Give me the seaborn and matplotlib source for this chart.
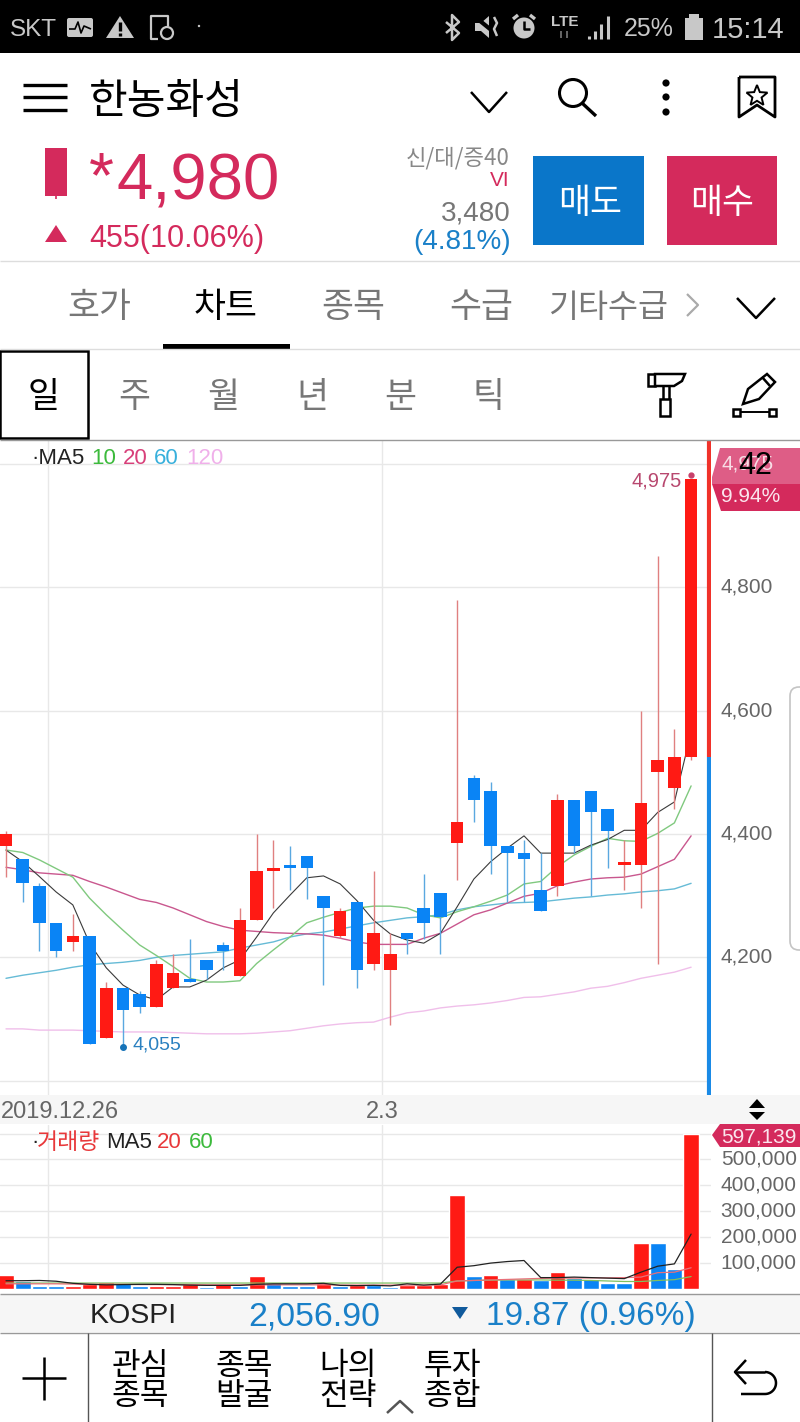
import numpy as np
import pandas as pd
import matplotlib
matplotlib.use('Agg')
import matplotlib.pyplot as plt
import seaborn as sns
from matplotlib.patches import Rectangle, Polygon, Circle, FancyBboxPatch

# daily candles
open_p = [4380, 4360, 4315, 4255, 4225, 4235, 4070, 4150, 4140, 4120, 4150, 4165, 4195, 4220,
          4170, 4260, 4340, 4350, 4365, 4300, 4235, 4290, 4190, 4180, 4240, 4280, 4305, 4385,
          4490, 4470, 4380, 4370, 4310, 4315, 4455, 4470, 4440, 4350, 4350, 4500, 4475, 4525]
close_p = [4400, 4320, 4255, 4210, 4235, 4060, 4150, 4115, 4120, 4190, 4175, 4160, 4180, 4210,
           4260, 4340, 4345, 4345, 4345, 4280, 4275, 4180, 4240, 4205, 4230, 4255, 4265, 4420,
           4455, 4380, 4370, 4360, 4275, 4455, 4380, 4435, 4405, 4355, 4450, 4520, 4525, 4975]
high_p = [4405, 4360, 4320, 4255, 4270, 4235, 4160, 4150, 4145, 4195, 4205, 4230, 4195, 4225,
          4280, 4400, 4390, 4380, 4365, 4300, 4280, 4290, 4340, 4240, 4240, 4335, 4305, 4780,
          4495, 4485, 4380, 4390, 4370, 4465, 4455, 4470, 4440, 4390, 4600, 4850, 4570, 4975]
low_p = [4330, 4290, 4210, 4200, 4210, 4060, 4070, 4055, 4110, 4120, 4150, 4160, 4165, 4180,
         4170, 4260, 4280, 4310, 4295, 4155, 4232, 4150, 4180, 4090, 4205, 4230, 4205, 4325,
         4420, 4335, 4290, 4290, 4275, 4300, 4370, 4300, 4345, 4310, 4280, 4190, 4440, 4520]

ma5 = [4374, 4355, 4331, 4306, 4285, 4223, 4183, 4155, 4139, 4131, 4152, 4152, 4163, 4183,
       4196, 4233, 4272, 4301, 4329, 4332, 4319, 4292, 4260, 4238, 4228, 4223, 4239, 4282,
       4327, 4355, 4377, 4397, 4369, 4369, 4369, 4382, 4391, 4406, 4406, 4435, 4452, 4565]
ma10 = [4374, 4370, 4358, 4344, 4330, 4296, 4269, 4244, 4220, 4203, 4185, 4166, 4160, 4160,
        4162, 4190, 4212, 4233, 4256, 4265, 4273, 4280, 4283, 4283, 4280, 4269, 4264, 4274,
        4282, 4291, 4301, 4319, 4323, 4347, 4366, 4380, 4393, 4389, 4388, 4401, 4418, 4478]
ma20 = [4346, 4342, 4337, 4335, 4333, 4323, 4314, 4304, 4294, 4289, 4280, 4269, 4258, 4250,
        4244, 4242, 4240, 4239, 4238, 4236, 4231, 4225, 4221, 4221, 4221, 4231, 4239, 4254,
        4269, 4277, 4288, 4299, 4304, 4316, 4322, 4327, 4329, 4330, 4335, 4347, 4359, 4397]
ma60 = [4166, 4171, 4175, 4179, 4184, 4188, 4190, 4192, 4195, 4200, 4203, 4205, 4207, 4209,
        4215, 4220, 4225, 4233, 4238, 4241, 4246, 4251, 4256, 4260, 4264, 4266, 4269, 4277,
        4282, 4285, 4288, 4289, 4290, 4293, 4296, 4298, 4301, 4303, 4306, 4308, 4311, 4320]
ma120 = [4084, 4084, 4082, 4082, 4082, 4081, 4080, 4079, 4079, 4079, 4078, 4077, 4076, 4076,
         4076, 4077, 4079, 4081, 4085, 4089, 4092, 4094, 4095, 4103, 4110, 4113, 4118, 4121,
         4123, 4126, 4130, 4135, 4136, 4140, 4144, 4150, 4153, 4159, 4166, 4171, 4176, 4184]

volume = [53000, 31000, 13000, 13000, 13000, 20000, 26000, 22000, 10000, 10000, 13000, 19000,
          8000, 21000, 10000, 49000, 22000, 10000, 10000, 22000, 10000, 15000, 15000, 9000,
          15000, 15000, 18000, 364000, 50000, 53000, 37000, 40000, 35000, 67000, 44000, 40000,
          25000, 22000, 179000, 177000, 76000, 597139]
vol_dir = ['up', 'down', 'down', 'down', 'up', 'up', 'up', 'down', 'down', 'up', 'up', 'up',
           'down', 'up', 'down', 'up', 'down', 'down', 'down', 'up', 'down', 'up', 'down', 'down',
           'up', 'up', 'up', 'up', 'down', 'up', 'down', 'up', 'down', 'up', 'down', 'down',
           'down', 'down', 'up', 'down', 'down', 'up']
vol_ma5 = [32000, 32000, 33000, 30000, 22000, 18000, 16000, 17000, 18000, 18000, 17000, 15000,
           14000, 14000, 14000, 18000, 20000, 20000, 20000, 22000, 14000, 13000, 14000, 12000,
           20000, 15000, 19000, 84000, 90000, 100000, 106000, 110000, 44000, 44000, 46000, 44000,
           42000, 40000, 65000, 88000, 97000, 212000]
vol_ma20 = [20000, 20000, 20000, 20000, 19000, 18000, 18000, 18000, 17000, 17000, 17000, 17000,
            16000, 16000, 16000, 16000, 16000, 16000, 16000, 16000, 15000, 15000, 15000, 15000,
            15000, 15000, 16000, 31000, 33000, 35000, 37000, 39000, 41000, 42000, 42000, 43000,
            43000, 44000, 46000, 63000, 65000, 82000]
vol_ma60 = [23000, 23000, 23000, 23000, 23000, 23000, 23000, 23000, 23000, 23000, 23000, 23000,
            23000, 23000, 23000, 23000, 23000, 23000, 23000, 23000, 23000, 23000, 23000, 23000,
            23000, 23000, 23000, 31000, 33000, 34000, 35000, 35000, 35000, 34000, 34000, 33000,
            31000, 29000, 29000, 33000, 36000, 48000]

price_ticks = [4200, 4400, 4600, 4800]
price_grid = [4000, 4200, 4400, 4600, 4800, 5000]
vol_ticks = [100000, 200000, 300000, 400000, 500000]
date_ticks = [2.5, 22.5]

RED = '#ff1a14'
BLUE = '#0a84f5'
CRIMSON = '#d42a5c'
GRAY = '#777777'
KR = ['Noto Sans CJK KR', 'DejaVu Sans']
LAT = ['Liberation Sans', 'DejaVu Sans']

sns.set_theme(style='white')
plt.rcParams['font.family'] = LAT

W, H = 800, 1422
fig = plt.figure(figsize=(W / 100, H / 100), dpi=100, facecolor='white')


def px_axes(left, top, right, bottom):
    return fig.add_axes([left / W, 1 - bottom / H, (right - left) / W, (bottom - top) / H])


days = np.arange(len(close_p))
x_lim = (-6 / 16.71, 705 / 16.71)

# price panel
ax = px_axes(0, 440, 711, 1095)
for series, col, lw in [(ma120, '#f0bfea', 1.0), (ma60, '#66bbd6', 1.0), (ma20, '#c9578e', 1.0),
                        (ma10, '#80c97f', 1.0), (ma5, '#3a3a3a', 0.8)]:
    sns.lineplot(x=days, y=series, color=col, linewidth=lw, ax=ax, zorder=2)

for i in days:
    up = close_p[i] >= open_p[i]
    ax.vlines(i, low_p[i], high_p[i], color='#e08080' if up else '#5aa8e0', linewidth=1.0, zorder=3)
    ax.bar(i, abs(close_p[i] - open_p[i]), bottom=min(open_p[i], close_p[i]), width=0.75,
           color=RED if up else BLUE, linewidth=0, zorder=4)

ax.set_xlim(*x_lim)
ax.set_ylim(4400 - 261 / 0.6167, 4400 + 394 / 0.6167)
ax.set_yticks(price_grid, ['' if p not in price_ticks else f'{p:,}' for p in price_grid])
ax.set_xticks(date_ticks, [])
ax.yaxis.tick_right()
ax.tick_params(axis='y', length=0, pad=7, labelsize=15, labelcolor='#666666')
ax.tick_params(axis='x', length=0)
plt.setp(ax.get_yticklabels(), va='center')
ax.grid(True, color='#e8e8e8', linewidth=1)
ax.set_axisbelow(True)
for s in ax.spines.values():
    s.set_visible(False)
ax.set_xlabel('')
ax.set_ylabel('')

# last price bar, split at the previous close
ax.vlines(42.08, open_p[-1], ax.get_ylim()[1], color='#f0322a', linewidth=3.0, zorder=5)
ax.vlines(42.08, ax.get_ylim()[0], open_p[-1], color='#1a8ae6', linewidth=3.0, zorder=5)

# high / low markers
ax.plot([41], [high_p[-1]], marker='o', ms=3.5, color='#c8406a', zorder=6, clip_on=False,
        linestyle='none', transform=ax.transData + matplotlib.transforms.ScaledTranslation(0, 3 / 72, fig.dpi_scale_trans))
ax.annotate(f'{high_p[-1]:,}', (41, high_p[-1]), xytext=(-7, 0), textcoords='offset points',
            ha='right', va='center_baseline', fontsize=14.5, color='#b8486f', zorder=6)
ax.plot([7], [min(low_p)], marker='o', ms=4, color='#1673b8', zorder=6, linestyle='none')
ax.annotate(f'{min(low_p):,}', (7, min(low_p)), xytext=(7, 3), textcoords='offset points',
            ha='left', va='center_baseline', fontsize=14, color='#2a80c0', zorder=6)

# volume panel
vol_ax = px_axes(0, 1125, 711, 1290)
vol_df = pd.DataFrame({'day': days, 'volume': volume, 'dir': vol_dir})
sns.barplot(data=vol_df, x='day', y='volume', hue='dir', palette={'up': RED, 'down': BLUE},
            native_scale=True, dodge=False, width=0.94, saturation=1, errorbar=None,
            legend=False, ax=vol_ax, zorder=3)
for series, col in [(vol_ma60, '#80c060'), (vol_ma20, '#e8707a'), (vol_ma5, '#222222')]:
    sns.lineplot(x=days, y=series, color=col, linewidth=0.9, ax=vol_ax, zorder=4)
vol_ax.set_xlim(*x_lim)
vol_ax.set_ylim(-3861, 633200)
vol_ax.set_yticks(vol_ticks + [max(volume)], [f'{v:,}' for v in vol_ticks] + [''])
vol_ax.set_xticks(date_ticks, [])
vol_ax.yaxis.tick_right()
vol_ax.tick_params(axis='y', length=0, pad=7, labelsize=15, labelcolor='#666666')
vol_ax.tick_params(axis='x', length=0)
plt.setp(vol_ax.get_yticklabels(), va='center')
vol_ax.grid(True, color='#e8e8e8', linewidth=1)
vol_ax.set_axisbelow(True)
for s in vol_ax.spines.values():
    s.set_visible(False)
vol_ax.set_xlabel('')
vol_ax.set_ylabel('')

# app screen around the charts, in screen pixels
ui = fig.add_axes([0, 0, 1, 1], zorder=5)
ui.set_xlim(0, W)
ui.set_ylim(H, 0)
ui.axis('off')
ui.patch.set_visible(False)


def txt(x, y, s, size, color='black', ha='left', family=LAT, va='center_baseline', **kw):
    return ui.text(x, y, s, fontsize=size, color=color, ha=ha, va=va, family=family, **kw)


def krtxt(x, y, s, size, color='black', ha='left'):
    # the CJK font sits high when centred, push it back down
    return txt(x, y + size * 0.16, s, size, color, ha=ha, family=KR, va='center')


def box(x0, y0, x1, y1, color, **kw):
    ui.add_patch(Rectangle((x0, y0), x1 - x0, y1 - y0, facecolor=color, edgecolor='none', **kw))


def line(xs, ys, color='black', lw=1.6, **kw):
    ui.plot(xs, ys, color=color, linewidth=lw, solid_capstyle=kw.pop('cap', 'butt'), **kw)


def poly(pts, color, **kw):
    ui.add_patch(Polygon(pts, closed=True, facecolor=color, edgecolor=kw.pop('edgecolor', 'none'), **kw))


# status bar
STATUS = '#c8c8c8'
box(0, 0, W, 53, 'black')
txt(10, 27, 'SKT', 17.5, STATUS)
ui.add_patch(FancyBboxPatch((67, 18), 26, 19, boxstyle='round,pad=0,rounding_size=2', facecolor=STATUS, edgecolor='none'))
line([69, 75, 78, 81, 84, 91], [29, 29, 22, 33, 26, 29], 'black', 1.2)
poly([(120, 16), (134, 38), (106, 38)], STATUS)
line([120, 120], [22, 31], 'black', 2.4)
line([120, 120], [33, 36], 'black', 2.4)
line([160, 151, 151, 158], [16, 16, 39, 39], STATUS, 1.6)
line([160, 168, 168], [16, 16, 26], STATUS, 1.6)
ui.add_patch(Circle((167, 33), 6, facecolor='none', edgecolor=STATUS, linewidth=1.6))
ui.add_patch(Circle((199, 26), 1.2, facecolor=STATUS, edgecolor='none'))
line([446, 459, 452, 452, 459, 446], [22, 33, 40, 15, 22, 33], STATUS, 1.8)
poly([(475, 23), (481, 23), (489, 16), (489, 38), (481, 31), (475, 31)], STATUS)
line([474, 501], [16, 38], 'black', 3)
line([494, 497, 494, 497], [17, 23, 29, 36], STATUS, 1.8)
ui.add_patch(Circle((524, 28), 10.5, facecolor=STATUS, edgecolor='none'))
line([524, 524, 530], [21, 29, 29], 'black', 1.8)
line([513, 518], [19, 15], STATUS, 2.4)
line([535, 530], [19, 15], STATUS, 2.4)
txt(551, 21, 'LTE', 11, STATUS, fontweight='bold')
line([561, 561], [31, 38], '#666666', 1.4)
line([567, 567], [31, 38], '#666666', 1.4)
for bx, by in [(589, 36), (595, 31), (601, 24), (608, 16)]:
    line([bx, bx], [39, by], STATUS, 2.2)
txt(624, 27, '25%', 18, STATUS)
box(689, 14, 699, 18, STATUS)
box(685, 18, 703, 40, STATUS)
txt(712, 27, '15:14', 21, STATUS)

# title row
for yy in (85, 97, 110):
    line([23, 67], [yy, yy], 'black', 2.4)
krtxt(89, 97, '한농화성', 30.3)
line([471, 489, 507], [92, 112, 92], 'black', 1.8)
ui.add_patch(Circle((573, 93), 13.5, facecolor='none', edgecolor='black', linewidth=2.2))
line([582, 596], [103, 116], 'black', 2.4)
for yy in (83, 97, 112):
    ui.add_patch(Circle((666, yy), 3.6, facecolor='black', edgecolor='none'))
line([739, 775, 775, 757, 739, 739], [77, 77, 117, 105, 117, 77], 'black', 2)
ang = np.deg2rad(np.arange(0, 360, 36) - 90)
rad = np.tile([11, 4.8], 5)
poly(list(zip(757 + rad * np.cos(ang), 96 + rad * np.sin(ang))), 'none', edgecolor='black', linewidth=1.4)

# quote block
box(45, 148, 67, 196, CRIMSON)
line([56, 56], [196, 199], CRIMSON, 1.2)
txt(89, 180, '*', 46, CRIMSON, va='center')
txt(116, 176, '4,980', 47, CRIMSON)
poly([(56, 225), (67, 242), (45, 242)], CRIMSON)
txt(89, 236, '455(10.06%)', 22, CRIMSON)
krtxt(510, 155, '신/대/증40', 16, '#888888', ha='right')
txt(510, 178, 'VI', 15, CRIMSON, ha='right')
txt(510.5, 211, '3,480', 20, GRAY, ha='right')
txt(510.5, 239, '(4.81%)', 20, '#1a80c8', ha='right')
box(533, 156, 644, 245, '#0a76c9')
box(667, 156, 777, 245, CRIMSON)
krtxt(590, 200, '매도', 25, 'white', ha='center')
krtxt(722, 200, '매수', 25, 'white', ha='center')
line([0, W], [261, 261], '#dddddd', 1)

# tabs
for cx, s, col in [(99, '호가', GRAY), (226, '차트', 'black'), (353, '종목', GRAY), (481, '수급', GRAY)]:
    krtxt(cx, 304, s, 25, col, ha='center')
krtxt(608, 304, '기타수급', 23.5, GRAY, ha='center')
line([687, 698, 687], [294, 305, 316], '#aaaaaa', 1.6)
line([737, 756, 775], [298, 318, 298], 'black', 1.8)
box(163, 344, 290, 349, 'black')
line([0, W], [349, 349], '#dddddd', 1)

# period selector
ui.add_patch(Rectangle((0, 351), 88, 87, facecolor='white', edgecolor='black', linewidth=1.8))
krtxt(44, 393, '일', 25, ha='center')
for cx, s in [(134, '주'), (223, '월'), (312, '년'), (400, '분'), (489, '틱')]:
    krtxt(cx, 393, s, 25, GRAY, ha='center')
ui.add_patch(Rectangle((648, 374), 7, 12, facecolor='white', edgecolor='black', linewidth=1.8))
poly([(655, 374), (685, 374), (682, 381), (674, 386), (655, 386)], 'white', edgecolor='black', linewidth=1.8)
line([663, 663], [386, 399], 'black', 1.8)
line([669, 669], [386, 399], 'black', 1.8)
ui.add_patch(Rectangle((660, 399), 10, 17, facecolor='white', edgecolor='black', linewidth=1.8))
poly([(743, 404), (748, 389), (767, 374), (775, 382), (759, 399)], 'white', edgecolor='black', linewidth=1.8)
line([762, 770], [377, 386], 'black', 1.8)
ui.add_patch(Rectangle((733, 409), 7, 7, facecolor='white', edgecolor='black', linewidth=1.8))
ui.add_patch(Rectangle((769, 409), 7, 7, facecolor='white', edgecolor='black', linewidth=1.8))
line([740, 769], [412, 412], 'black', 1.4)
line([0, W], [439.5, 439.5], '#999999', 1)

# indicator legends
lx = [(31, '·MA5', '#222222'), (91, '10', '#3cba3c'), (123, '20', '#d8407a'), (154, '60', '#38b0dc'), (186, '120', '#f0b0ea')]
for xx, s, col in lx:
    txt(xx, 456, s, 16, col)
txt(31, 1140, '·', 16, '#222222')
krtxt(37, 1140, '거래량', 16.5, '#e8383a')
txt(106, 1140, 'MA5', 16, '#222222')
txt(157, 1140, '20', 16, '#e8383a')
txt(189, 1140, '60', 16, '#3cba3c')

# badges on the right
poly([(720, 448), (800, 448), (800, 484), (712, 484), (712, 477)], '#de5d86')
poly([(712, 484), (800, 484), (800, 511), (721, 511)], CRIMSON)
txt(721, 462, '4,975', 15, '#f8dde6')
txt(721, 495, '9.94%', 15, '#fbe6ee')
txt(738, 462, '42', 22, 'black')
poly([(712, 1135), (720, 1124), (800, 1124), (800, 1147), (720, 1147)], CRIMSON)
txt(721, 1135, f'{max(volume):,}', 15, '#fbe6ee')
ui.add_patch(FancyBboxPatch((790, 687), 20, 263, boxstyle='round,pad=0,rounding_size=9', facecolor='none', edgecolor='#c4c4c4', linewidth=1.2))

# date strip
box(0, 1095, 711, 1124, '#f6f6f6')
box(711, 1095, W, 1124, '#f6f6f6')
txt(1, 1110, '2019.12.26', 17, '#666666')
txt(366, 1110, '2.3', 17, '#666666')
poly([(749, 1108), (765, 1108), (757, 1099)], 'black')
poly([(749, 1112), (765, 1112), (757, 1120)], 'black')

# market strip
box(0, 1294, W, 1332, '#f6f6f6')
line([0, W], [1294, 1294], '#999999', 1)
line([0, W], [1332.5, 1332.5], '#999999', 1)
txt(90, 1313, 'KOSPI', 20.5, '#222222')
txt(248, 1313, '2,056.90', 24.4, '#1a80c8')
poly([(452, 1307), (468, 1307), (460, 1319)], '#105a9c')
txt(486, 1313, '19.87 (0.96%)', 24, '#1a80c8')

# bottom navigation
line([22, 66], [1378, 1378], 'black', 1.8)
line([44, 44], [1357, 1400], 'black', 1.8)
line([88, 88], [1333, H], '#555555', 1)
line([712, 712], [1333, H], '#555555', 1)
for cx, a, b in [(140, '관심', '종목'), (244, '종목', '발굴'), (348, '나의', '전략'), (452, '투자', '종합')]:
    krtxt(cx, 1362, a, 22.5, ha='center')
    krtxt(cx, 1392, b, 22.5, ha='center')
line([387, 400, 413], [1413, 1401, 1413], '#555555', 1.8)
line([746, 735, 746], [1360, 1372, 1384], 'black', 1.8)
line([735, 765], [1372, 1372], 'black', 1.8)
t = np.linspace(-np.pi / 2, np.pi / 2, 30)
line(np.r_[765 + 11 * np.cos(t), 741], np.r_[1383 + 11 * np.sin(t), 1394], 'black', 1.8)

fig.savefig('out.png', dpi=100, facecolor='white')
